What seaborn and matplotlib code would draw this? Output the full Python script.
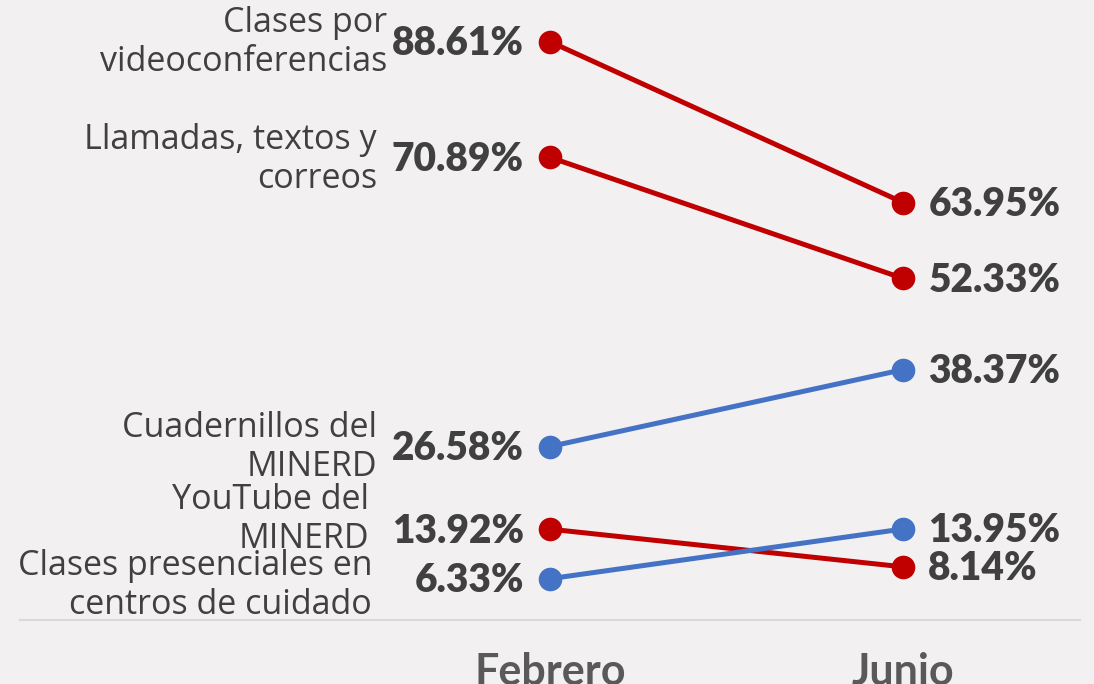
import numpy as np
import pandas as pd
import seaborn as sns
import matplotlib.pyplot as plt

categorias = ['Clases por\nvideoconferencias', 'Llamadas, textos y\ncorreos',
              'Cuadernillos del\nMINERD', 'YouTube del\nMINERD',
              'Clases presenciales en\ncentros de cuidado']
meses = ['Febrero', 'Junio']
febrero = [88.61, 70.89, 26.58, 13.92, 6.33]
junio = [63.95, 52.33, 38.37, 8.14, 13.95]
colores = ['#c00000', '#c00000', '#4472c4', '#c00000', '#4472c4']

# where the category names sit, in pixels from the Febrero point
desplaz = [(-163, -1), (-173, -2), (-173, -1), (-181, 10), (-178, -7)]

df = pd.DataFrame({
    'Categoria': categorias * 2,
    'Mes': [meses[0]] * len(categorias) + [meses[1]] * len(categorias),
    'Valor': febrero + junio,
})

sns.set_theme(style='white')
plt.rcParams['font.family'] = ['Lato', 'DejaVu Sans']

fondo = '#f2f0f1'
fig = plt.figure(figsize=(10.94, 6.84), dpi=100)
fig.patch.set_facecolor(fondo)
ax = fig.add_axes([20 / 1094, 64 / 684, 1060 / 1094, 620 / 684])
ax.set_facecolor(fondo)

sns.lineplot(data=df, x='Mes', y='Valor', hue='Categoria',
             palette=dict(zip(categorias, colores)), marker='o',
             markersize=17, markeredgewidth=0, linewidth=3.6,
             legend=False, sort=False, ax=ax)

ax.set_xlim(-1.5, 1.5)
ax.set_ylim(0, 95)
ax.set_yticks([])
ax.set_xlabel('')
ax.set_ylabel('')

for i, cat in enumerate(categorias):
    ax.annotate(f'{febrero[i]:.2f}%', ('Febrero', febrero[i]), xytext=(-26, -2),
                textcoords='offset pixels', ha='right', va='center',
                fontsize=28, fontweight='heavy', color='#404040')
    ax.annotate(f'{junio[i]:.2f}%', ('Junio', junio[i]), xytext=(25, -2),
                textcoords='offset pixels', ha='left', va='center',
                fontsize=28, fontweight='heavy', color='#404040')
    ax.annotate(cat, ('Febrero', febrero[i]), xytext=desplaz[i],
                textcoords='offset pixels', ha='right', va='center',
                multialignment='right', linespacing=1.2,
                fontsize=24.5, color='#404040', family=['Open Sans', 'DejaVu Sans'])

ax.tick_params(axis='x', length=0, pad=23, labelsize=31, labelcolor='#595959')
for lbl in ax.get_xticklabels():
    lbl.set_fontweight('bold')

sns.despine(ax=ax, left=True)
ax.spines['bottom'].set_color('#d9d9d9')
ax.spines['bottom'].set_linewidth(1.5)

fig.savefig('out.png', dpi=100, facecolor=fig.get_facecolor())
